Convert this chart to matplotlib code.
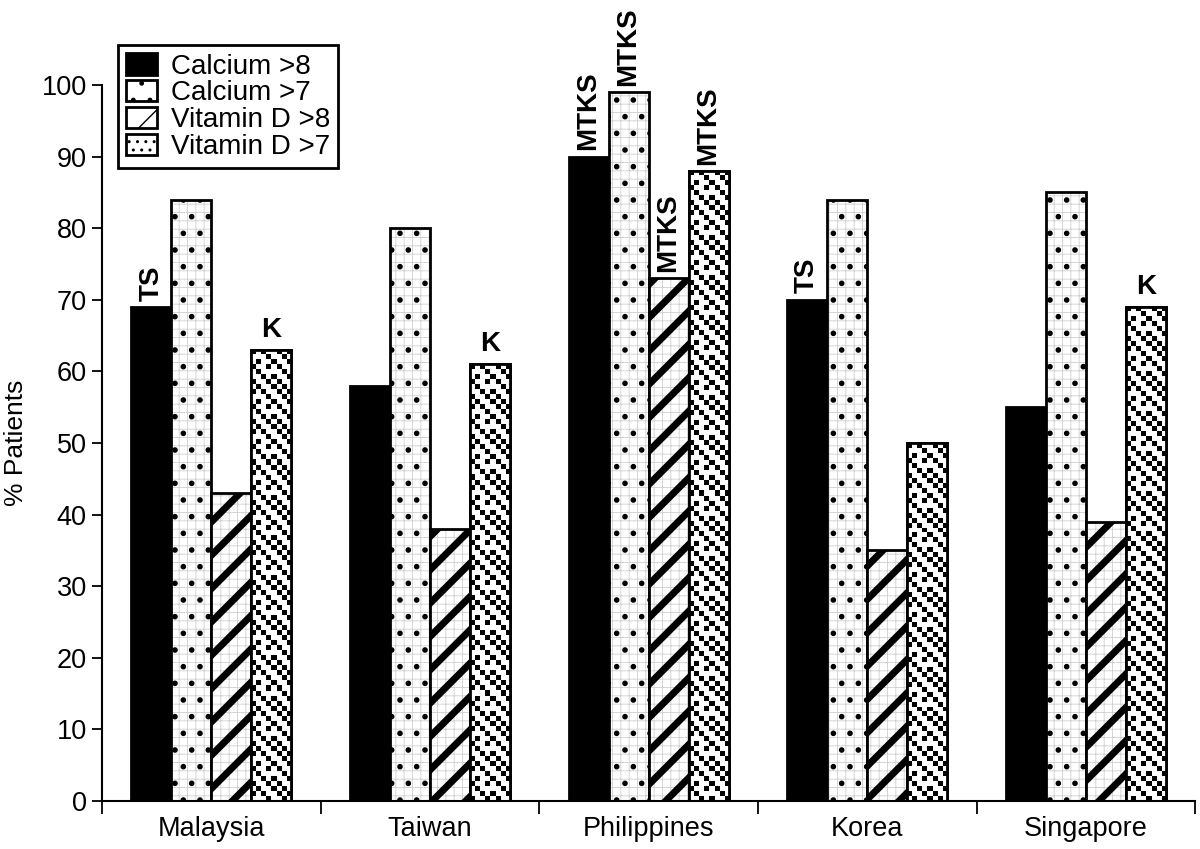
import matplotlib
matplotlib.use("Agg")
import matplotlib.pyplot as plt
import numpy as np

countries = ["Malaysia", "Taiwan", "Philippines", "Korea", "Singapore"]
series_names = ["Calcium >8", "Calcium >7", "Vitamin D >8", "Vitamin D >7"]
calcium_8 = [69, 58, 90, 70, 55]
calcium_7 = [84, 80, 99, 84, 85]
vitd_8 = [43, 38, 73, 35, 39]
vitd_7 = [63, 61, 88, 50, 69]
# (country index, series index, label, rotated)
notes = [
    (0, 0, "TS", True), (0, 3, "K", False),
    (1, 3, "K", False),
    (2, 0, "MTKS", True), (2, 1, "MTKS", True), (2, 2, "MTKS", True), (2, 3, "MTKS", True),
    (3, 0, "TS", True),
    (4, 3, "K", False),
]

# speckled square texture used for the "Vitamin D >7" fill
speckle = np.array([
    [1, 0, 1, 0, 0, 1, 0, 1],
    [0, 0, 0, 1, 0, 0, 1, 0],
    [0, 1, 0, 0, 1, 0, 0, 1],
    [1, 0, 0, 1, 0, 1, 0, 0],
    [0, 1, 0, 0, 0, 0, 1, 0],
    [0, 0, 1, 0, 1, 0, 0, 1],
    [1, 0, 0, 1, 0, 1, 0, 0],
    [0, 1, 0, 0, 1, 0, 1, 0],
])

plt.rcParams['font.family'] = ['Liberation Sans', 'DejaVu Sans']
plt.rcParams['hatch.color'] = 'black'


def set_hlw(bars, lw):
    for b in bars:
        if hasattr(b, "set_hatch_linewidth"):
            b.set_hatch_linewidth(lw)


fig = plt.figure(figsize=(12, 8.49), dpi=100)
ax = fig.add_axes([0.085, 0.0565, 0.911, 0.8433])

values = [calcium_8, calcium_7, vitd_8, vitd_7]
face = ["black", "white", "white", "white"]
hatches = [None, ".", "/", ".."]
hatch_lw = [1.0, 1.6, 5.0, 3.2]
grid_under = [False, True, True, False]
w = 0.183
x = np.arange(len(countries))
offsets = (np.arange(4) - 1.5) * w

ax.set_xlim(-0.5, 4.5)
ax.set_ylim(0, 100)

handles = []
for i, vals in enumerate(values):
    if grid_under[i]:
        # faint grey grid underneath the main pattern
        grid = ax.bar(x + offsets[i], vals, w, color="white", edgecolor="#cfcfcf",
                      hatch="++", linewidth=0)
        set_hlw(grid, 0.6)
        bars = ax.bar(x + offsets[i], vals, w, color="none", edgecolor="black",
                      hatch=hatches[i], linewidth=2, label=series_names[i])
    else:
        bars = ax.bar(x + offsets[i], vals, w, color=face[i], edgecolor="black",
                      hatch=hatches[i], linewidth=2, label=series_names[i])
    set_hlw(bars, hatch_lw[i])
    handles.append(bars)

# speckle texture on the last series, sized to ~5 px cells
fig.canvas.draw()
cell = 5.0
for b in handles[3]:
    bb = b.get_window_extent()
    ncol = max(1, int(round(bb.width / cell)))
    nrow = max(1, int(round(bb.height / cell)))
    tex = np.tile(speckle, (nrow // speckle.shape[0] + 1, ncol // speckle.shape[1] + 1))[:nrow, :ncol]
    x0, y0 = b.get_x(), b.get_y()
    im = ax.imshow(tex, cmap="gray_r", vmin=0, vmax=1, interpolation="nearest",
                   extent=(x0, x0 + b.get_width(), y0, y0 + b.get_height()),
                   aspect="auto", zorder=1.5)
    im.set_clip_path(b)
    ax.bar(x0 + b.get_width() / 2, b.get_height(), b.get_width(), color="none",
           edgecolor="black", linewidth=2, zorder=2)
ax.set_xlim(-0.5, 4.5)
ax.set_ylim(0, 100)

for ci, si, txt, rot in notes:
    xv = x[ci] + offsets[si]
    yv = values[si][ci]
    if rot:
        ax.text(xv, yv + 0.9, txt, rotation=90, ha="center", va="bottom",
                fontsize=20, fontweight="bold", clip_on=False)
    else:
        ax.text(xv, yv + 1.0, txt, ha="center", va="bottom",
                fontsize=20, fontweight="bold", clip_on=False)

ax.set_yticks(np.arange(0, 101, 10))
ax.set_xticks(np.arange(-0.5, 4.6, 1))
ax.set_xticklabels([])
ax.set_xticks(x, minor=True)
ax.set_xticklabels(countries, minor=True, fontsize=19.5)
ax.tick_params(axis="x", which="minor", length=0, pad=11)
ax.tick_params(axis="x", which="major", length=9, width=1.3, direction="out")
ax.tick_params(axis="y", length=7, width=1.3, labelsize=19.5, direction="out", pad=4)
ax.spines["top"].set_visible(False)
ax.spines["right"].set_visible(False)
ax.spines["left"].set_linewidth(1.5)
ax.spines["bottom"].set_linewidth(1.5)
ax.set_ylabel("% Patients", fontsize=19, labelpad=10)

leg = ax.legend(handles=handles, loc="upper left", bbox_to_anchor=(0.0146, 1.056),
                fontsize=20, frameon=True, fancybox=False, handlelength=1.1,
                handleheight=0.8, handletextpad=0.5, labelspacing=0.02,
                borderpad=0.3, borderaxespad=0)
leg.get_frame().set_edgecolor("black")
leg.get_frame().set_linewidth(2)
leg.get_frame().set_alpha(1)

fig.savefig("out.png", dpi=100)
